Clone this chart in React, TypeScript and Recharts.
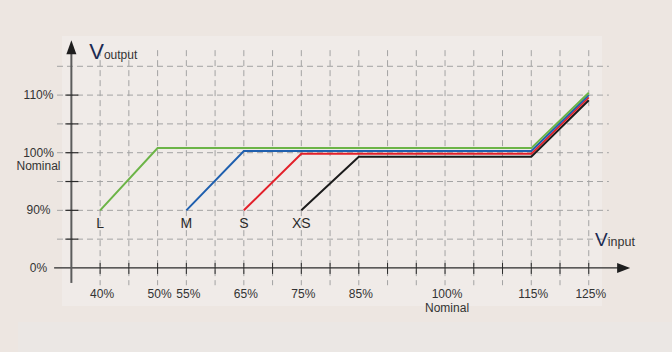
import React from 'react'
import { LineChart, Line, XAxis, YAxis, ReferenceLine, ReferenceDot } from 'recharts'

// input voltage (% of nominal) on the x axis
const xTicks = [40, 50, 55, 65, 75, 85, 100, 115, 125]
const xTickLabels = ['40%', '50%', '55%', '65%', '75%', '85%', '100%', '115%', '125%']
// output axis is broken: 0% sits one step below 90%
const yTicks = [80, 90, 100, 110]
const yTickLabels = ['0%', '90%', '100%', '110%']
const gridX = [40, 45, 50, 55, 60, 65, 70, 75, 80, 85, 90, 95, 100, 105, 110, 115, 120, 125]
const gridY = [85, 90, 95, 100, 105, 110, 115]
const axisTicksY = [85, 90, 95, 100, 105, 110]

const lInput = [40, 50, 115, 125]
const lOutput = [90, 100.8, 100.8, 110.4]
const mInput = [55, 65, 115, 125]
const mOutput = [90, 100.3, 100.3, 110]
const sInput = [65, 75, 115, 125]
const sOutput = [90, 99.8, 99.8, 109.6]
const xsInput = [75, 85, 115, 125]
const xsOutput = [90, 99.3, 99.3, 109.1]

const sizeNames = ['XS', 'S', 'M', 'L']
const sizeColors = ['#1b1b1b', '#e2202a', '#1f5fae', '#6cb447']

const toPoints = (xs: number[], ys: number[]) => xs.map((x, i) => ({ x, y: ys[i] }))
const series = [
  toPoints(xsInput, xsOutput),
  toPoints(sInput, sOutput),
  toPoints(mInput, mOutput),
  toPoints(lInput, lOutput),
]

const FONT = '"Liberation Sans", Arial, sans-serif'
const GRID = '#a3a3a3'

function XTick({ x, y, payload }: any) {
  const label = xTickLabels[xTicks.indexOf(payload.value)]
  return (
    <g fontFamily={FONT} fontSize={12} fill="#333">
      <text x={x + 2} y={y + 7} textAnchor="middle">{label}</text>
      {payload.value === 100 && (
        <text x={x + 2} y={y + 21} textAnchor="middle">Nominal</text>
      )}
    </g>
  )
}

function YTick({ x, y, payload }: any) {
  const label = yTickLabels[yTicks.indexOf(payload.value)]
  return (
    <g fontFamily={FONT} fontSize={12} fill="#333">
      <text x={x} y={y + 4} textAnchor="middle">{label}</text>
      {payload.value === 100 && (
        <text x={x} y={y + 17.5} textAnchor="middle">Nominal</text>
      )}
    </g>
  )
}

export default function App() {
  return (
    <div style={{ position: 'absolute', left: 0, top: 0, width: 672, height: 352, background: '#ede6e1', overflow: 'hidden' }}>
      <div style={{ position: 'absolute', left: 62, top: 36, width: 540, height: 270, background: '#f0ebe8' }} />
      <div style={{ position: 'absolute', left: 18, top: 322, width: 654, height: 30, background: '#ebe7e4' }} />
      <div style={{ position: 'absolute', left: 0, top: 0 }}>
        <LineChart width={672} height={352} margin={{ top: 49, right: 43, bottom: 0, left: 0 }}>
          <XAxis
            type="number"
            dataKey="x"
            domain={[32.5, 132]}
            allowDataOverflow
            ticks={xTicks}
            tick={<XTick />}
            axisLine={false}
            tickLine={false}
            tickSize={0}
            tickMargin={0}
            height={61}
            interval={0}
          />
          <YAxis
            type="number"
            dataKey="y"
            domain={[76, 118]}
            allowDataOverflow
            ticks={yTicks}
            tick={<YTick />}
            axisLine={false}
            tickLine={false}
            tickSize={0}
            tickMargin={18.5}
            width={57}
            interval={0}
          />

          {gridY.map((v) => (
            <ReferenceLine
              key={`gy-${v}`}
              segment={[{ x: 32.5, y: v }, { x: 128.5, y: v }]}
              stroke={GRID}
              strokeDasharray="6 4"
              ifOverflow="visible"
            />
          ))}
          {gridX.map((v) => (
            <ReferenceLine
              key={`gx-${v}`}
              segment={[{ x: v, y: 117.8 }, { x: v, y: 77 }]}
              stroke={GRID}
              strokeDasharray="6 4"
              ifOverflow="visible"
            />
          ))}

          {/* axes with arrow heads */}
          <ReferenceLine segment={[{ x: 32, y: 80 }, { x: 130.5, y: 80 }]} stroke="#2a2a2a" strokeWidth={1.3} ifOverflow="visible" />
          <ReferenceLine segment={[{ x: 35, y: 77.4 }, { x: 35, y: 117.5 }]} stroke="#5c5c5c" strokeWidth={2} ifOverflow="visible" />
          <ReferenceDot
            x={132.2}
            y={80}
            ifOverflow="visible"
            shape={(p: any) => (
              <polygon points={`${p.cx},${p.cy} ${p.cx - 13},${p.cy - 5} ${p.cx - 13},${p.cy + 5}`} fill="#1e1e1e" />
            )}
          />
          <ReferenceDot
            x={35}
            y={119.5}
            ifOverflow="visible"
            shape={(p: any) => (
              <polygon points={`${p.cx},${p.cy} ${p.cx - 5},${p.cy + 14} ${p.cx + 5},${p.cy + 14}`} fill="#1e1e1e" />
            )}
          />
          {gridX.map((v) => (
            <ReferenceDot
              key={`tx-${v}`}
              x={v}
              y={80}
              ifOverflow="visible"
              shape={(p: any) => <line x1={p.cx} x2={p.cx} y1={p.cy - 5} y2={p.cy + 6} stroke="#2a2a2a" strokeWidth={1} />}
            />
          ))}
          {axisTicksY.map((v) => (
            <ReferenceDot
              key={`ty-${v}`}
              x={35}
              y={v}
              ifOverflow="visible"
              shape={(p: any) => <line x1={p.cx - 6} x2={p.cx + 7} y1={p.cy} y2={p.cy} stroke="#2a2a2a" strokeWidth={1.2} />}
            />
          ))}

          {series.map((d, i) => (
            <Line
              key={sizeNames[i]}
              data={d}
              dataKey="y"
              type="linear"
              stroke={sizeColors[i]}
              strokeWidth={2}
              dot={false}
              isAnimationActive={false}
            />
          ))}

          {series.map((d, i) => (
            <ReferenceDot
              key={`lab-${sizeNames[i]}`}
              x={d[0].x}
              y={d[0].y}
              ifOverflow="visible"
              shape={(p: any) => (
                <text x={p.cx} y={p.cy + 18} textAnchor="middle" fontFamily={FONT} fontSize={14} fill="#2a2a2a">
                  {sizeNames[i]}
                </text>
              )}
            />
          ))}

          <ReferenceDot
            x={38.1}
            y={116.2}
            ifOverflow="visible"
            shape={(p: any) => (
              <text x={p.cx} y={p.cy} fontFamily={FONT} fill="#1b2a52">
                <tspan fontSize={22}>V</tspan>
                <tspan fontSize={12} fill="#333">output</tspan>
              </text>
            )}
          />
          <ReferenceDot
            x={126.1}
            y={83.8}
            ifOverflow="visible"
            shape={(p: any) => (
              <text x={p.cx} y={p.cy} fontFamily={FONT} fill="#1b2a52">
                <tspan fontSize={19}>V</tspan>
                <tspan fontSize={12.5} fill="#333">input</tspan>
              </text>
            )}
          />
        </LineChart>
      </div>
    </div>
  )
}
